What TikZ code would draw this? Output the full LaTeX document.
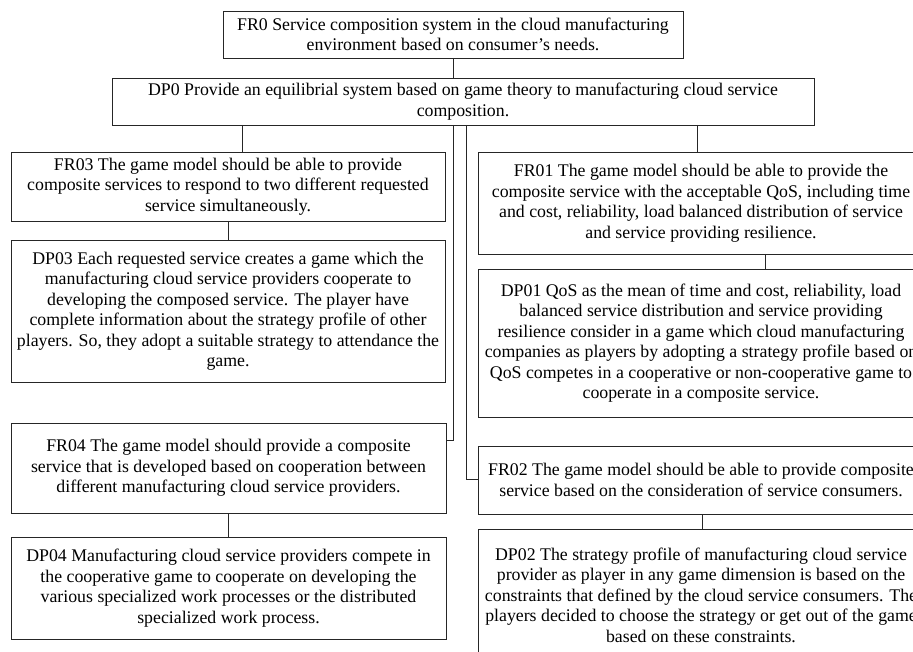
\documentclass[tikz,border=0pt]{standalone}
\usepackage{fontspec}
\setmainfont{Liberation Serif}
\begin{document}
\begin{tikzpicture}[x=1pt,y=-1pt,
  box/.style={draw=black!85, line width=0.8pt, inner sep=0pt, outer sep=0pt, align=center,
    font=\fontsize{17.8}{20.5}\selectfont},
  conn/.style={draw=black!85, line width=0.8pt}]
\useasboundingbox (0,0) rectangle (913,652);
\clip (0,0) rectangle (913,652);
% top
\node[box, minimum width=460pt, minimum height=47pt] (fr0) at (453,34.5)
  {FR0 Service composition system in the cloud manufacturing\\environment based on consumer’s needs.};
\node[box, minimum width=702pt, minimum height=47pt] (dp0) at (463,101.5)
  {DP0 Provide an equilibrial system based on game theory to manufacturing cloud service\\composition.};
% left column
\node[box, minimum width=434pt, minimum height=69pt] (fr03) at (228,186.5)
  {FR03 The game model should be able to provide\\composite services to respond to two different requested\\service simultaneously.};
\node[box, minimum width=434pt, minimum height=142pt] (dp03) at (228,311)
  {DP03 Each requested service creates a game which the\\manufacturing cloud service providers cooperate to\\developing the composed service. The player have\\complete information about the strategy profile of other\\players. So, they adopt a suitable strategy to attendance the\\game.};
\node[box, minimum width=435pt, minimum height=90pt] (fr04) at (228.5,468)
  {FR04 The game model should provide a composite\\service that is developed based on cooperation between\\different manufacturing cloud service providers.};
\node[box, minimum width=435pt, minimum height=102pt] (dp04) at (228.5,588)
  {DP04 Manufacturing cloud service providers compete in\\the cooperative game to cooperate on developing the\\various specialized work processes or the distributed\\specialized work process.};
% right column
\node[box, minimum width=446pt, minimum height=102pt] (fr01) at (701,203)
  {FR01 The game model should be able to provide the\\composite service with the acceptable QoS, including time\\and cost, reliability, load balanced distribution of service\\and service providing resilience.};
\node[box, minimum width=446pt, minimum height=148pt] (dp01) at (701,343)
  {DP01 QoS as the mean of time and cost, reliability, load\\balanced service distribution and service providing\\resilience consider in a game which cloud manufacturing\\companies as players by adopting a strategy profile based on\\QoS competes in a cooperative or non-cooperative game to\\cooperate in a composite service.};
\node[box, minimum width=446pt, minimum height=68pt] (fr02) at (701,480)
  {FR02 The game model should be able to provide composite\\service based on the consideration of service consumers.};
\node[box, minimum width=446pt, minimum height=132pt] (dp02) at (701,595)
  {DP02 The strategy profile of manufacturing cloud service\\provider as player in any game dimension is based on the\\constraints that defined by the cloud service consumers. The\\players decided to choose the strategy or get out of the game\\based on these constraints.};
% connector x positions
\coordinate (xa) at (453,0);
\coordinate (xb) at (466,0);
\coordinate (xc) at (242,0);
\coordinate (xd) at (697,0);
\coordinate (xe) at (765,0);
\coordinate (xf) at (702,0);
\coordinate (ya) at (0,440);
\coordinate (yb) at (0,479);
% connectors
\draw[conn] (fr0.south -| xa) -- (dp0.north -| xa);
\draw[conn] (dp0.south -| xc) -- (fr03.north -| xc);
\draw[conn] (dp0.south -| xd) -- (fr01.north -| xd);
\draw[conn] (fr03.south) -- (dp03.north);
\draw[conn] (fr04.south -| fr03.south) -- (dp04.north -| fr03.south);
\draw[conn] (fr01.south -| xe) -- (dp01.north -| xe);
\draw[conn] (fr02.south -| xf) -- (dp02.north -| xf);
\draw[conn] (dp0.south -| xa) -- (xa |- ya) -- (fr04.east |- ya);
\draw[conn] (dp0.south -| xb) -- (xb |- yb) -- (fr02.west |- yb);
\end{tikzpicture}
\end{document}
